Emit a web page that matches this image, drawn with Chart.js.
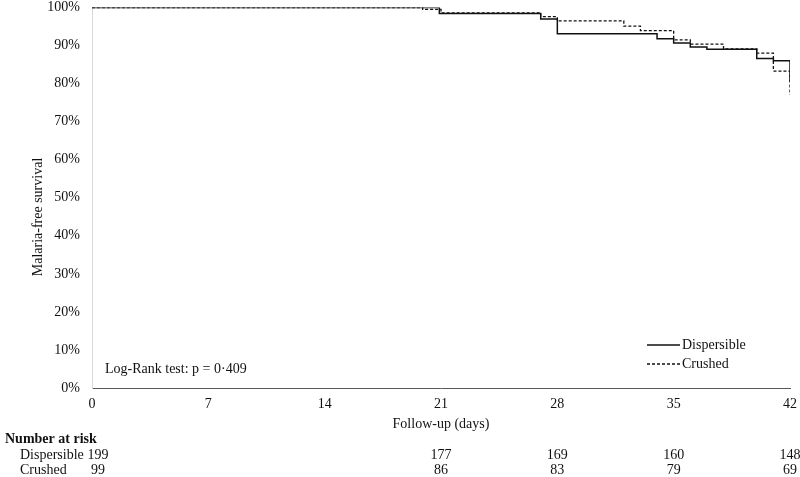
<!DOCTYPE html>
<html>
<head>
<meta charset="utf-8">
<script src="https://cdn.jsdelivr.net/npm/chart.js@4.4.0/dist/chart.umd.min.js"></script>
<style>
    html, body { margin: 0; padding: 0; background: #fff; }
    #wrap { width: 800px; height: 477px; position: relative; }
</style>
</head>
<body>
<div id="wrap"><canvas id="km"></canvas></div>
<script>
// Kaplan-Meier steps (day of event, survival % after it)
const dispersibleDays = [0, 20.9, 27, 28, 34, 35, 36, 37, 40, 41, 42];
const dispersibleSurv = [100, 98.4, 97.0, 93.1, 91.8, 90.7, 89.6, 89.0, 86.6, 86.0, 80.5];
const crushedDays = [0, 19.9, 21, 27, 28, 32, 33, 35, 36, 38, 40, 41, 42];
const crushedSurv = [100, 99.5, 98.6, 97.6, 96.5, 95.1, 93.9, 91.5, 90.4, 89.1, 88.0, 83.3, 77.0];

const riskDays = [0, 21, 28, 35, 42];
const riskDispersible = [199, 177, 169, 160, 148];
const riskCrushed = [99, 86, 83, 79, 69];

const serif = '"Liberation Serif", "Times New Roman", serif';
const ink = '#111';

const toPoints = (days, surv) => days.map((d, i) => ({ x: d, y: surv[i] }));

const extrasPlugin = {
    id: 'extras',
    afterDraw(chart) {
        const ctx = chart.ctx;
        const xs = chart.scales.x;
        const area = chart.chartArea;
        ctx.save();
        ctx.fillStyle = ink;
        ctx.font = '14px ' + serif;

        // axis titles
        ctx.textAlign = 'center';
        ctx.textBaseline = 'middle';
        ctx.fillText('Follow-up (days)', (area.left + area.right) / 2, 424);
        ctx.save();
        ctx.translate(38, 217);
        ctx.rotate(-Math.PI / 2);
        ctx.fillText('Malaria-free survival', 0, 0);
        ctx.restore();

        // test result
        ctx.textAlign = 'left';
        ctx.fillText('Log-Rank test: p = 0\u00b7409', 105, 369);

        // legend
        const legendRows = [345, 364];
        chart.data.datasets.forEach((ds, i) => {
            const y = legendRows[i];
            ctx.save();
            ctx.strokeStyle = ds.borderColor;
            ctx.lineWidth = ds.borderWidth;
            ctx.setLineDash(ds.borderDash || []);
            ctx.beginPath();
            ctx.moveTo(647, y);
            ctx.lineTo(680, y);
            ctx.stroke();
            ctx.restore();
            ctx.fillText(ds.label, 682, y);
        });

        // number at risk table
        ctx.font = 'bold 14px ' + serif;
        ctx.fillText('Number at risk', 5, 439);
        ctx.font = '14px ' + serif;
        ctx.fillText('Dispersible', 20, 455);
        ctx.fillText('Crushed', 20, 470);
        ctx.textAlign = 'center';
        riskDays.forEach((d, i) => {
            const x = xs.getPixelForValue(d) + (d === 0 ? 6 : 0);
            ctx.fillText(String(riskDispersible[i]), x, 455);
            ctx.fillText(String(riskCrushed[i]), x, 470);
        });
        ctx.restore();
    }
};

new Chart(document.getElementById('km'), {
    type: 'line',
    data: {
        datasets: [{
            label: 'Dispersible',
            data: toPoints(dispersibleDays, dispersibleSurv),
            borderColor: ink,
            borderWidth: 1.5,
            stepped: true,
            pointRadius: 0,
            fill: false
        }, {
            label: 'Crushed',
            data: toPoints(crushedDays, crushedSurv),
            borderColor: ink,
            borderWidth: 1.3,
            borderDash: [3, 2],
            stepped: true,
            pointRadius: 0,
            fill: false
        }]
    },
    options: {
        responsive: true,
        maintainAspectRatio: false,
        animation: false,
        layout: { padding: { left: 0, right: 10, top: 7.5, bottom: 0 } },
        plugins: {
            legend: { display: false },
            tooltip: { enabled: false }
        },
        scales: {
            x: {
                type: 'linear',
                min: 0,
                max: 42,
                afterFit: (s) => { s.height = 89; s.paddingLeft = 0; s.paddingRight = 0; },
                grid: { display: false, drawTicks: false },
                border: { display: true, color: '#595959', width: 1 },
                ticks: {
                    stepSize: 7,
                    padding: 8,
                    color: ink,
                    font: { family: serif, size: 14 }
                }
            },
            y: {
                min: 0,
                max: 100,
                afterFit: (s) => { s.width = 92; s.paddingTop = 0; s.paddingBottom = 0; },
                grid: { display: false, drawTicks: false },
                border: { display: true, color: '#d9d9d9', width: 1 },
                ticks: {
                    stepSize: 10,
                    padding: 12,
                    color: ink,
                    font: { family: serif, size: 14 },
                    callback: (v) => v + '%'
                }
            }
        }
    },
    plugins: [extrasPlugin]
});
</script>
</body>
</html>
